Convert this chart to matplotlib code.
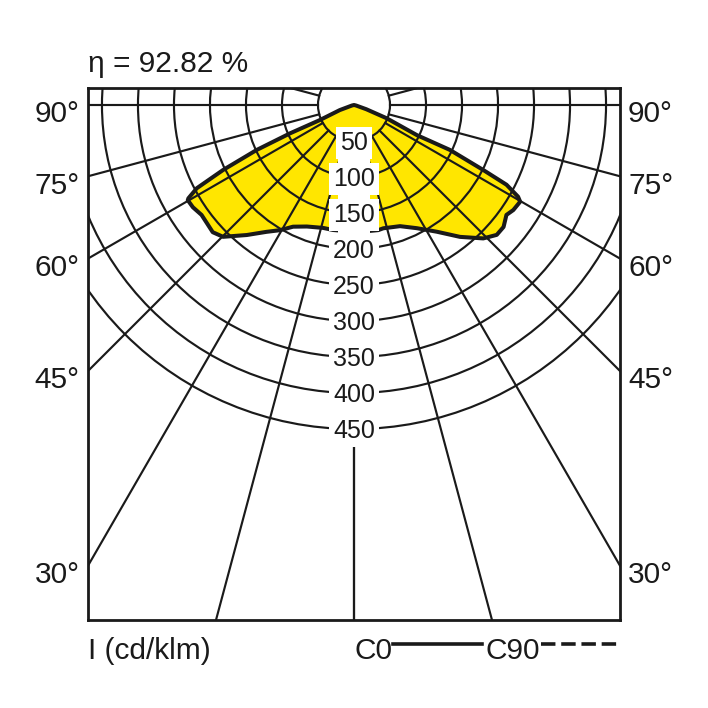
import numpy as np
import matplotlib
matplotlib.use('Agg')
import matplotlib.pyplot as plt
from matplotlib.patches import Circle, Polygon, Rectangle
from matplotlib.lines import Line2D

plt.rcParams['font.family'] = ['Liberation Sans', 'DejaVu Sans']

# luminous intensity (cd/klm) vs gamma angle (deg from nadir)
c0_gamma = [0, 11, 13.4, 20.8, 27, 33.1, 38.8, 44.1, 47.7, 50.8, 54.2, 56.6, 59.8,
            60.8, 62.4, 63.3, 64.9, 64.4, 67.9, 71, 76, 90]
c0_int = [177, 177, 176, 180, 192, 210, 235, 258, 268, 268, 261, 265, 267,
          261, 239, 201, 147, 97, 49, 18, 3, 0]
c180_gamma = [0, 9.5, 14.1, 21.2, 26.6, 30.6, 34.6, 39.5, 44.8, 48, 51.3, 54.2, 57.6,
              60.2, 60.6, 62.1, 63.6, 65.2, 66.1, 66.2, 70.3, 76, 90]
c180_int = [176, 176, 176, 181, 189, 202, 214, 234, 258, 264, 262, 261, 265,
            266, 264, 247, 203, 149, 97, 52, 21, 3, 0]

rings = [50, 100, 150, 200, 250, 300, 350, 400, 450]
spokes = [0, 15, 30, 45, 60, 75, 90, 105]
side_labels = [90, 75, 60, 45, 30]
eta_text = 'η = 92.82 %'
unit_text = 'I (cd/klm)'

XL, XR, YT, YB = -369.4, 369.4, 23.6, -715.2
INK = '#1a1a1a'
BIG = 21.5
SMALL = 18

fig = plt.figure(figsize=(7.08, 7.08), dpi=100)
ax = fig.add_axes([88 / 708, 88 / 708, 532 / 708, 532 / 708])
ax.set_xlim(XL, XR)
ax.set_ylim(YB, YT)
ax.set_aspect('equal', adjustable='box')
ax.set_xticks([])
ax.set_yticks([])
for sp in ax.spines.values():
    sp.set_linewidth(2.0)
    sp.set_color(INK)
    sp.set_zorder(10)

# curve outline: right half C0, left half C180
g0 = np.radians(c0_gamma)
g1 = np.radians(c180_gamma)
xr = np.array(c0_int) * np.sin(g0)
yr = -np.array(c0_int) * np.cos(g0)
xl = -np.array(c180_int) * np.sin(g1)
yl = -np.array(c180_int) * np.cos(g1)
px = np.concatenate([xr, xl[::-1]])
py = np.concatenate([yr, yl[::-1]])
ax.add_patch(Polygon(np.column_stack([px, py]), closed=True, facecolor='#ffe600',
                     edgecolor='none', zorder=1))

# polar grid
for r in rings:
    ax.add_patch(Circle((0, 0), r, fill=False, edgecolor=INK, lw=1.55, zorder=2))
for s in spokes:
    for sign in (1, -1):
        a = np.radians(s)
        ax.plot([sign * 50 * np.sin(a), sign * 1200 * np.sin(a)],
                [-50 * np.cos(a), -1200 * np.cos(a)], color=INK, lw=1.55, zorder=2)

ax.plot(px, py, color=INK, lw=2.9, solid_joinstyle='round', zorder=3)

# white column behind the ring labels
ax.add_patch(Rectangle((-22, -rings[-1] - 24), 44, rings[-1] - rings[0] + 40,
                       facecolor='white', edgecolor='none', zorder=4))
for r in rings:
    ax.annotate(str(r), (0, -r), xytext=(0, -6.6), textcoords='offset points',
                ha='center', va='baseline', fontsize=SMALL, color=INK,
                bbox=dict(boxstyle='square,pad=0.15', fc='white', ec='none'), zorder=5)

# angle labels at both sides
for s in side_labels:
    y = 0 if s == 90 else -abs(XL / np.tan(np.radians(s)))
    ax.annotate(f'{s}°', (XL, y), xytext=(-6, -12.5), textcoords='offset points',
                ha='right', va='baseline', fontsize=BIG, color=INK,
                annotation_clip=False)
    ax.annotate(f'{s}°', (XR, y), xytext=(5.8, -12.5), textcoords='offset points',
                ha='left', va='baseline', fontsize=BIG, color=INK,
                annotation_clip=False)

fig.text(88 / 708, 1 - 72 / 708, eta_text, ha='left', va='baseline', fontsize=BIG, color=INK)
fig.text(88 / 708, 1 - 659 / 708, unit_text, ha='left', va='baseline', fontsize=BIG, color=INK)
fig.text(354 / 708, 1 - 659 / 708, 'C0', ha='left', va='baseline', fontsize=BIG, color=INK)
fig.text(486 / 708, 1 - 659 / 708, 'C90', ha='left', va='baseline', fontsize=BIG, color=INK)
ly = 1 - 644 / 708
fig.add_artist(Line2D([393 / 708, 482 / 708], [ly, ly], color=INK, lw=2.6))
fig.add_artist(Line2D([541 / 708, 617 / 708], [ly, ly], color=INK, lw=2.6,
                      dashes=(4, 1.6)))

fig.savefig('out.png', dpi=100, facecolor='white')
